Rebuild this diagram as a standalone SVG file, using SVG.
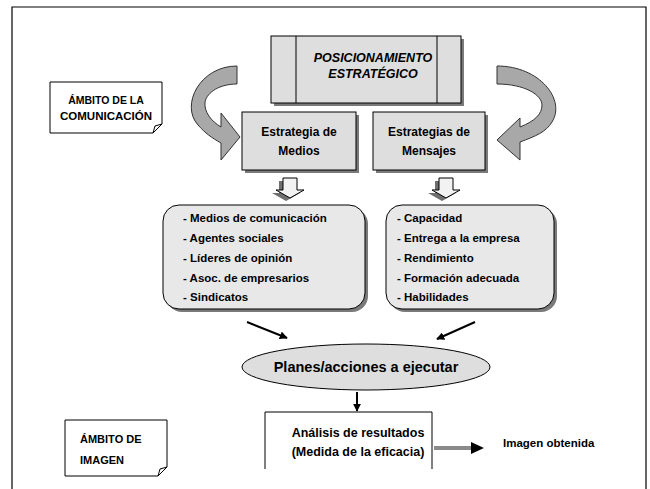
<svg xmlns="http://www.w3.org/2000/svg" width="650" height="489" viewBox="0 0 650 489">
<defs>
<style>
text{font-family:"Liberation Sans",Arial,sans-serif;font-weight:bold;fill:#000}
.box{fill:#dedede;stroke:#000;stroke-width:1}
.shadow{fill:#7a7a7a}
.curve{fill:#a8a8a8;stroke:#333;stroke-width:1}
.note{fill:#fff;stroke:#000;stroke-width:1}
.line{stroke:#000;stroke-width:2;fill:none}
.t11{font-size:11.5px}
.t12{font-size:12px}
</style>
<marker id="ah" viewBox="0 0 10 10" refX="9" refY="5" markerWidth="4" markerHeight="4" orient="auto" markerUnits="strokeWidth">
<path d="M0,0 L10,5 L0,10 Z" fill="#000"/>
</marker>
</defs>
<rect width="650" height="489" fill="#fff"/>
<!-- outer frame (open bottom) -->
<path d="M12,489 V7 H646 V489" fill="none" stroke="#000" stroke-width="1.2"/>

<g id="posicionamiento">
<rect class="shadow" x="274" y="39" width="190" height="67"/>
<rect class="box" x="271" y="36" width="190" height="67"/>
<line x1="296" y1="36" x2="296" y2="103" stroke="#000"/>
<line x1="437" y1="36" x2="437" y2="103" stroke="#000"/>
<text x="373" y="62" text-anchor="middle" font-style="italic" font-size="12.5">POSICIONAMIENTO</text>
<text x="373" y="78" text-anchor="middle" font-style="italic" font-size="12.5">ESTRATÉGICO</text>
</g>

<g id="ambito-comunicacion">
<path class="note" d="M50,82 H162 V124 L153,133 H50 Z"/>
<path d="M153,133 L155,126 L162,124" fill="none" stroke="#000"/>
<text x="106" y="104" text-anchor="middle" font-size="10.5">ÁMBITO DE LA</text>
<text x="106" y="120" text-anchor="middle" font-size="11.5">COMUNICACIÓN</text>
</g>

<g id="estrategia-medios">
<rect class="shadow" x="245" y="115" width="114" height="58"/>
<rect class="box" x="242" y="112" width="114" height="58"/>
<text class="t12" x="299" y="136" text-anchor="middle">Estrategia de</text>
<text class="t12" x="299" y="155" text-anchor="middle">Medios</text>
</g>

<g id="estrategias-mensajes">
<rect class="shadow" x="376" y="115" width="112" height="58"/>
<rect class="box" x="373" y="112" width="112" height="58"/>
<text class="t12" x="429" y="136" text-anchor="middle">Estrategias de</text>
<text class="t12" x="429" y="155" text-anchor="middle">Mensajes</text>
</g>

<g id="lista-medios">
<rect class="shadow" x="166" y="208" width="202" height="104" rx="16"/>
<rect x="163" y="205" width="202" height="104" rx="16" fill="#e8e8e8" stroke="#000"/>
<text class="t11" x="183" y="222">- Medios de comunicación</text>
<text class="t11" x="183" y="242">- Agentes sociales</text>
<text class="t11" x="183" y="262">- Líderes de opinión</text>
<text class="t11" x="183" y="282">- Asoc. de empresarios</text>
<text class="t11" x="183" y="301">- Sindicatos</text>
</g>

<g id="lista-mensajes">
<rect class="shadow" x="389" y="208" width="168" height="104" rx="16"/>
<rect x="386" y="205" width="168" height="104" rx="16" fill="#e8e8e8" stroke="#000"/>
<text class="t11" x="397" y="222">- Capacidad</text>
<text class="t11" x="397" y="242">- Entrega a la empresa</text>
<text class="t11" x="397" y="262">- Rendimiento</text>
<text class="t11" x="397" y="282">- Formación adecuada</text>
<text class="t11" x="397" y="301">- Habilidades</text>
</g>

<g id="planes">
<ellipse cx="366" cy="367" rx="124" ry="23" fill="#dedede" stroke="#000"/>
<text x="366" y="372" text-anchor="middle" font-size="14.5">Planes/acciones a ejecutar</text>
</g>

<g id="analisis">
<path d="M265,469 V412 H432 V469" fill="#fff" stroke="#000"/>
<text x="358" y="437" text-anchor="middle" font-size="12.5">Análisis de resultados</text>
<text x="358" y="456" text-anchor="middle" font-size="12.5">(Medida de la eficacia)</text>
</g>

<g id="imagen-obtenida">
<text x="503" y="447" font-size="11.5">Imagen obtenida</text>
</g>

<g id="ambito-imagen">
<path class="note" d="M65,420 H167 V467 L158,476 H65 Z"/>
<path d="M158,476 L160,469 L167,467" fill="none" stroke="#000"/>
<text x="80" y="443" font-size="11">ÁMBITO DE</text>
<text x="80" y="464" font-size="11">IMAGEN</text>
</g>

<g id="connectors">
<!-- left curved arrow -->
<path class="curve" d="M237,66 C200,66 180,105 198,125 C205,133 212,138 221,143 L221,160 L240,137 L221,113 L221,127 C211,121 204,112 205,102 C207,92 220,84 237,84 Z"/>
<!-- right curved arrow -->
<path class="curve" d="M497,66 C540,66 566,100 552,122 C546,132 536,136 520,142 L520,160 L497,140 L520,118 L520,127 C535,121 542,114 542,105 C542,95 525,84 497,84 Z"/>
<!-- hollow down arrows -->
<path d="M279,181 H293 V193 H300 L286,201 L272,193 H279 Z" fill="#6e6e6e"/>
<path d="M283,178 H297 V190 H304 L290,198 L276,190 H283 Z" fill="#f2f2f2" stroke="#000"/>
<path d="M435,181 H449 V193 H456 L442,201 L428,193 H435 Z" fill="#6e6e6e"/>
<path d="M439,178 H453 V190 H460 L446,198 L432,190 H439 Z" fill="#f2f2f2" stroke="#000"/>
<!-- diagonal arrows -->
<line class="line" x1="247" y1="322" x2="287" y2="338" marker-end="url(#ah)"/>
<line class="line" x1="475" y1="322" x2="437" y2="339" marker-end="url(#ah)"/>
<!-- down arrow -->
<line class="line" x1="357" y1="392" x2="357" y2="411" marker-end="url(#ah)"/>
<!-- grey arrow -->
<line x1="434" y1="448" x2="472" y2="448" stroke="#8a8a8a" stroke-width="4"/>
<path d="M471,442 L484,448 L471,454 Z" fill="#000"/>
</g>
</svg>
